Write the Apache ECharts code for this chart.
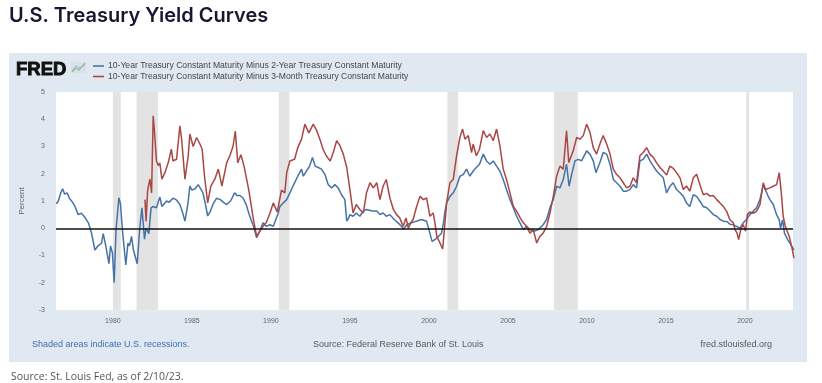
<!DOCTYPE html>
<html>
<head>
<meta charset="utf-8">
<script src="https://cdn.jsdelivr.net/npm/echarts@6/dist/echarts.min.js"></script>
<style>
html,body{margin:0;padding:0;background:#fff;}
#chart{width:822px;height:383px;}
</style>
</head>
<body>
<div id="chart"></div>
<script>
// ---- DATA ----
const chartTitle = 'U.S. Treasury Yield Curves';
const seriesNames = [
  '10-Year Treasury Constant Maturity Minus 2-Year Treasury Constant Maturity',
  '10-Year Treasury Constant Maturity Minus 3-Month Treasury Constant Maturity'
];
const yearTicks = [1980, 1985, 1990, 1995, 2000, 2005, 2010, 2015, 2020];
const yTicks = [-3, -2, -1, 0, 1, 2, 3, 4, 5];
const recessions = [
  [1980.0, 1980.5], [1981.5, 1982.85], [1990.5, 1991.17],
  [2001.17, 2001.85], [2007.92, 2009.42], [2020.08, 2020.25]
];
// [decimal year, percent]
const spread10y2y = [
  [1976.42,0.9],[1976.55,1.0],[1976.7,1.3],[1976.82,1.45],[1976.95,1.25],[1977.1,1.3],[1977.25,1.1],
  [1977.45,0.95],[1977.6,0.8],[1977.8,0.5],[1978.0,0.55],[1978.23,0.4],[1978.45,0.2],[1978.65,-0.18],
  [1978.86,-0.8],[1979.05,-0.65],[1979.28,-0.55],[1979.39,-0.2],[1979.55,-0.65],[1979.75,-1.3],
  [1979.85,-0.65],[1979.97,-0.9],[1980.08,-2.0],[1980.2,-0.05],[1980.38,1.12],[1980.48,0.9],
  [1980.6,-0.05],[1980.82,-1.35],[1980.95,-0.55],[1981.05,-0.65],[1981.18,-0.3],[1981.3,-0.8],
  [1981.54,-1.3],[1981.7,0.0],[1981.84,0.75],[1982.0,-0.4],[1982.1,0.0],[1982.28,-0.2],[1982.33,0.2],
  [1982.42,0.75],[1982.55,0.8],[1982.66,0.87],[1982.76,0.75],[1982.97,1.15],[1983.1,0.8],[1983.4,1.0],
  [1983.55,0.95],[1983.8,1.1],[1984.0,1.05],[1984.24,0.87],[1984.4,0.6],[1984.56,0.26],[1984.75,0.9],
  [1984.87,1.55],[1985.0,1.4],[1985.2,1.45],[1985.4,1.6],[1985.55,1.45],[1985.7,1.3],[1985.85,0.9],
  [1986.0,0.45],[1986.15,0.6],[1986.35,0.9],[1986.56,1.1],[1986.8,1.05],[1987.0,0.95],[1987.2,0.87],
  [1987.45,1.0],[1987.7,1.3],[1987.85,1.2],[1988.05,1.2],[1988.25,1.1],[1988.45,0.85],[1988.6,0.55],
  [1988.75,0.3],[1988.9,0.07],[1989.1,-0.35],[1989.3,-0.1],[1989.5,0.2],[1989.7,0.07],[1989.94,0.13],
  [1990.15,0.07],[1990.3,0.3],[1990.46,0.55],[1990.57,0.8],[1990.78,0.93],[1991.0,1.05],[1991.2,1.3],
  [1991.5,1.67],[1991.7,1.91],[1991.94,2.17],[1992.05,1.91],[1992.25,2.1],[1992.45,2.28],[1992.63,2.6],
  [1992.8,2.28],[1993.0,2.23],[1993.2,2.17],[1993.42,1.97],[1993.63,1.6],[1993.84,1.48],[1994.05,1.6],
  [1994.26,1.48],[1994.47,1.23],[1994.68,1.05],[1994.8,0.26],[1994.9,0.35],[1995.0,0.5],[1995.2,0.44],
  [1995.4,0.56],[1995.63,0.44],[1995.85,0.63],[1996.05,0.69],[1996.4,0.63],[1996.7,0.63],[1996.9,0.5],
  [1997.1,0.56],[1997.3,0.44],[1997.53,0.5],[1997.8,0.32],[1998.05,0.2],[1998.25,0.07],[1998.4,-0.03],
  [1998.6,0.13],[1998.9,0.2],[1999.2,0.26],[1999.54,0.32],[1999.85,0.26],[2000.06,-0.18],[2000.2,-0.48],
  [2000.38,-0.42],[2000.6,-0.3],[2000.8,-0.18],[2000.92,0.2],[2001.0,0.56],[2001.12,0.93],[2001.33,1.17],
  [2001.54,1.3],[2001.75,1.54],[2001.96,1.91],[2002.17,1.97],[2002.38,2.17],[2002.59,1.91],[2002.8,2.1],
  [2003.0,2.23],[2003.2,2.35],[2003.44,2.72],[2003.65,2.47],[2003.86,2.35],[2004.07,2.47],[2004.28,2.28],
  [2004.49,2.1],[2004.7,1.79],[2004.91,1.42],[2005.13,1.05],[2005.34,0.75],[2005.55,0.44],[2005.76,0.2],
  [2005.97,-0.05],[2006.18,0.07],[2006.39,-0.05],[2006.65,-0.11],[2006.92,-0.05],[2007.23,0.13],
  [2007.45,0.32],[2007.66,0.75],[2007.87,1.05],[2008.08,1.54],[2008.29,1.48],[2008.5,1.79],[2008.71,2.35],
  [2008.87,1.54],[2009.03,1.97],[2009.24,2.47],[2009.45,2.53],[2009.66,2.47],[2009.98,2.84],[2010.19,2.72],
  [2010.4,2.47],[2010.57,2.04],[2010.82,2.41],[2011.03,2.78],[2011.25,2.72],[2011.46,2.35],[2011.67,1.79],
  [2011.88,1.67],[2012.09,1.54],[2012.3,1.36],[2012.51,1.36],[2012.72,1.42],[2012.93,1.6],[2013.14,1.48],
  [2013.35,2.47],[2013.56,2.53],[2013.78,2.72],[2013.99,2.47],[2014.2,2.28],[2014.41,2.1],[2014.62,1.97],
  [2014.83,1.85],[2015.04,1.3],[2015.25,1.54],[2015.46,1.67],[2015.67,1.42],[2015.89,1.3],[2016.1,1.17],
  [2016.3,0.93],[2016.51,0.8],[2016.73,1.23],[2016.94,1.17],[2017.15,0.99],[2017.36,0.8],[2017.58,0.75],
  [2017.79,0.63],[2018.0,0.5],[2018.21,0.44],[2018.42,0.32],[2018.63,0.26],[2018.84,0.25],[2019.05,0.15],
  [2019.26,0.13],[2019.47,0.07],[2019.68,0.0],[2019.89,0.2],[2020.1,0.32],[2020.31,0.5],[2020.52,0.62],
  [2020.73,0.75],[2020.95,1.05],[2021.16,1.6],[2021.3,1.4],[2021.45,1.2],[2021.58,1.05],[2021.79,0.87],
  [2022.0,0.5],[2022.17,0.31],[2022.25,0.0],[2022.38,0.31],[2022.5,-0.18],[2022.7,-0.42],[2022.9,-0.6],
  [2023.1,-0.79]
];
const spread10y3m = [
  [1982.03,1.05],[1982.1,0.26],[1982.2,1.4],[1982.34,1.8],[1982.45,1.3],[1982.55,4.13],[1982.62,3.65],
  [1982.76,2.47],[1982.87,2.3],[1982.97,2.4],[1983.1,1.8],[1983.3,2.05],[1983.5,2.4],[1983.7,2.9],
  [1983.8,2.47],[1984.03,2.53],[1984.24,3.76],[1984.35,3.27],[1984.56,1.8],[1984.77,2.66],[1984.87,3.46],
  [1985.08,3.0],[1985.3,3.33],[1985.5,3.1],[1985.65,2.9],[1985.8,1.9],[1986.0,0.93],[1986.2,1.55],
  [1986.45,1.8],[1986.67,2.17],[1986.9,1.55],[1987.2,2.4],[1987.4,2.66],[1987.6,3.0],[1987.75,3.56],
  [1987.9,2.4],[1988.1,2.7],[1988.3,2.28],[1988.6,1.4],[1988.9,0.3],[1989.1,-0.3],[1989.3,-0.1],
  [1989.5,0.07],[1989.7,0.2],[1989.94,0.55],[1990.15,0.93],[1990.4,0.6],[1990.67,1.4],[1990.88,1.3],
  [1991.0,2.04],[1991.2,2.47],[1991.5,2.53],[1991.7,2.96],[1991.94,3.27],[1992.15,3.82],[1992.4,3.5],
  [1992.68,3.82],[1992.9,3.58],[1993.1,3.27],[1993.3,2.9],[1993.5,2.66],[1993.75,2.47],[1993.95,2.78],
  [1994.16,3.21],[1994.37,3.03],[1994.58,2.72],[1994.8,2.23],[1995.0,1.42],[1995.2,0.56],[1995.4,0.87],
  [1995.63,0.69],[1995.85,0.56],[1996.05,1.3],[1996.27,1.67],[1996.48,1.48],[1996.7,1.67],[1996.9,1.05],
  [1997.1,1.54],[1997.3,1.79],[1997.53,1.11],[1997.75,0.69],[1997.95,0.5],[1998.15,0.38],[1998.37,0.07],
  [1998.55,0.38],[1998.7,0.0],[1998.85,0.2],[1999.0,0.32],[1999.2,0.75],[1999.43,1.17],[1999.65,1.05],
  [1999.85,1.11],[1999.95,0.8],[2000.06,0.44],[2000.27,0.56],[2000.38,0.2],[2000.5,-0.3],[2000.7,-0.54],
  [2000.87,-0.76],[2000.98,-0.05],[2001.12,0.93],[2001.33,1.67],[2001.54,1.79],[2001.75,2.66],
  [2001.96,3.33],[2002.13,3.64],[2002.28,3.27],[2002.49,3.4],[2002.7,2.78],[2002.8,3.09],[2003.0,2.66],
  [2003.2,2.9],[2003.44,3.58],[2003.65,3.33],[2003.86,3.46],[2004.07,3.21],[2004.28,3.64],[2004.49,3.03],
  [2004.7,2.17],[2004.91,1.79],[2005.13,1.3],[2005.34,0.8],[2005.55,0.63],[2005.76,0.4],[2005.97,0.2],
  [2006.18,0.07],[2006.39,-0.18],[2006.6,-0.05],[2006.82,-0.54],[2007.02,-0.3],[2007.23,-0.18],
  [2007.45,0.07],[2007.66,0.56],[2007.87,1.17],[2008.08,1.91],[2008.29,2.28],[2008.5,2.17],[2008.71,3.58],
  [2008.85,2.41],[2009.13,2.84],[2009.35,3.33],[2009.56,3.27],[2009.77,3.4],[2009.98,3.82],[2010.19,3.52],
  [2010.4,2.96],[2010.61,2.72],[2010.82,3.09],[2011.03,3.4],[2011.25,3.09],[2011.46,2.72],[2011.67,2.17],
  [2011.88,1.97],[2012.09,1.85],[2012.3,1.67],[2012.51,1.48],[2012.72,1.54],[2012.93,1.85],[2013.14,1.67],
  [2013.35,2.66],[2013.56,2.78],[2013.78,2.96],[2013.99,2.71],[2014.2,2.6],[2014.41,2.4],[2014.62,2.23],
  [2014.83,2.1],[2015.04,1.95],[2015.25,2.28],[2015.46,2.2],[2015.67,2.04],[2015.89,1.85],[2016.1,1.42],
  [2016.3,1.55],[2016.51,1.36],[2016.73,1.85],[2016.94,1.98],[2017.15,1.6],[2017.36,1.23],[2017.58,1.28],
  [2017.78,1.18],[2018.0,1.2],[2018.21,1.05],[2018.42,0.93],[2018.63,0.8],[2018.84,0.62],[2019.05,0.31],
  [2019.26,0.2],[2019.37,-0.05],[2019.5,-0.18],[2019.6,-0.42],[2019.75,0.0],[2019.89,0.13],[2020.04,-0.11],
  [2020.15,0.5],[2020.31,0.6],[2020.52,0.55],[2020.73,0.62],[2020.95,0.87],[2021.16,1.67],[2021.3,1.42],
  [2021.58,1.48],[2021.79,1.54],[2022.0,1.6],[2022.17,2.04],[2022.3,1.3],[2022.42,0.44],[2022.55,0.07],
  [2022.63,0.13],[2022.8,-0.3],[2023.0,-0.79],[2023.1,-1.1]
];

// ---- CHART ----
const chart = echarts.init(document.getElementById('chart'), null, {renderer: 'canvas'});
const BLUE = '#4572a7', RED = '#aa4643';
const GRID = {left: 56, top: 92, width: 737, height: 218};
const option = {
  animation: false,
  backgroundColor: '#ffffff',
  grid: {left: GRID.left, top: GRID.top, width: GRID.width, height: GRID.height,
         show: true, backgroundColor: '#ffffff', borderWidth: 0, z: 1},
  xAxis: {
    type: 'value', min: 1976.4, max: 2023.04,
    splitLine: {show: false},
    axisLine: {show: false},
    axisTick: {show: true, customValues: yearTicks, length: 3, lineStyle: {color: '#d8d8d8'}},
    axisLabel: {customValues: yearTicks, formatter: v => String(v), fontSize: 7,
                color: '#666', margin: 8, fontFamily: 'Liberation Sans'}
  },
  yAxis: {
    type: 'value', min: yTicks[0], max: yTicks[yTicks.length - 1], interval: 1,
    splitLine: {lineStyle: {color: '#ebebeb', width: 1}},
    axisLine: {show: false}, axisTick: {show: false},
    axisLabel: {fontSize: 7, color: '#666', margin: 11, fontFamily: 'Liberation Sans'}
  },
  series: [
    {
      type: 'line', data: spread10y2y, showSymbol: false, silent: true, z: 1,
      lineStyle: {opacity: 0},
      markArea: {silent: true, itemStyle: {color: '#e3e3e3'},
        data: recessions.map(r => [{xAxis: r[0]}, {xAxis: r[1]}])}
    },
    {
      name: seriesNames[0], type: 'line', data: spread10y2y, showSymbol: false, z: 3,
      lineStyle: {color: BLUE, width: 1.5}, itemStyle: {color: BLUE}
    },
    {
      name: seriesNames[1], type: 'line', data: spread10y3m, showSymbol: false, z: 4,
      lineStyle: {color: RED, width: 1.5}, itemStyle: {color: RED},
      markLine: {silent: true, symbol: 'none', label: {show: false},
        lineStyle: {color: '#111', width: 1.5, type: 'solid'}, data: [{yAxis: 0}]}
    }
  ],
  graphic: [
    {type: 'rect', z: -10, silent: true, shape: {x: 9, y: 53, width: 798, height: 309},
     style: {fill: '#e0e8f1'}},
    {type: 'text', left: 9, top: 6, style: {text: chartTitle, fill: '#17172f',
      font: '600 20px Inter'}},
    {type: 'text', x: 16, y: 60, style: {text: 'FRED', fill: '#111', stroke: '#111', lineWidth: 0.9,
      font: 'bold 18.5px "Liberation Sans"'}},
    {type: 'rect', x: 71, y: 62, shape: {width: 15, height: 11}, style: {fill: '#d7e1ea'}},
    {type: 'polyline', shape: {points: [[72, 72], [76, 68], [79, 70], [85, 63]]},
     style: {stroke: '#8fbf7f', lineWidth: 1.2, fill: null}},
    {type: 'polyline', shape: {points: [[72, 71], [76, 66], [80, 68], [85, 65]]},
     style: {stroke: '#9ab6d6', lineWidth: 1, fill: null}},
    {type: 'line', shape: {x1: 93, y1: 66, x2: 104, y2: 66}, style: {stroke: BLUE, lineWidth: 1.6}},
    {type: 'line', shape: {x1: 93, y1: 76.5, x2: 104, y2: 76.5}, style: {stroke: RED, lineWidth: 1.6}},
    {type: 'text', x: 108, y: 66, style: {text: seriesNames[0], fill: '#474747',
      font: '8.6px "Liberation Sans"', verticalAlign: 'middle'}},
    {type: 'text', x: 108, y: 76.5, style: {text: seriesNames[1], fill: '#474747',
      font: '8.6px "Liberation Sans"', verticalAlign: 'middle'}},
    {type: 'text', x: 22, y: 201, rotation: Math.PI / 2, style: {text: 'Percent', fill: '#666',
      font: '8px "Liberation Sans"', align: 'center', verticalAlign: 'middle'}},
    {type: 'text', x: 32, y: 345, style: {text: 'Shaded areas indicate U.S. recessions.',
      fill: '#3f6fae', font: '9px "Liberation Sans"', verticalAlign: 'middle'}},
    {type: 'text', x: 313, y: 345, style: {text: 'Source: Federal Reserve Bank of St. Louis',
      fill: '#5a5a5a', font: '9px "Liberation Sans"', verticalAlign: 'middle'}},
    {type: 'text', x: 772, y: 345, style: {text: 'fred.stlouisfed.org',
      fill: '#5a5a5a', font: '9px "Liberation Sans"', align: 'right', verticalAlign: 'middle'}},
    {type: 'text', x: 11, y: 377, style: {text: 'Source: St. Louis Fed, as of 2/10/23.',
      fill: '#555', font: '10.5px "Open Sans"', verticalAlign: 'middle'}}
  ]
};
chart.setOption(option);
</script>
</body>
</html>
